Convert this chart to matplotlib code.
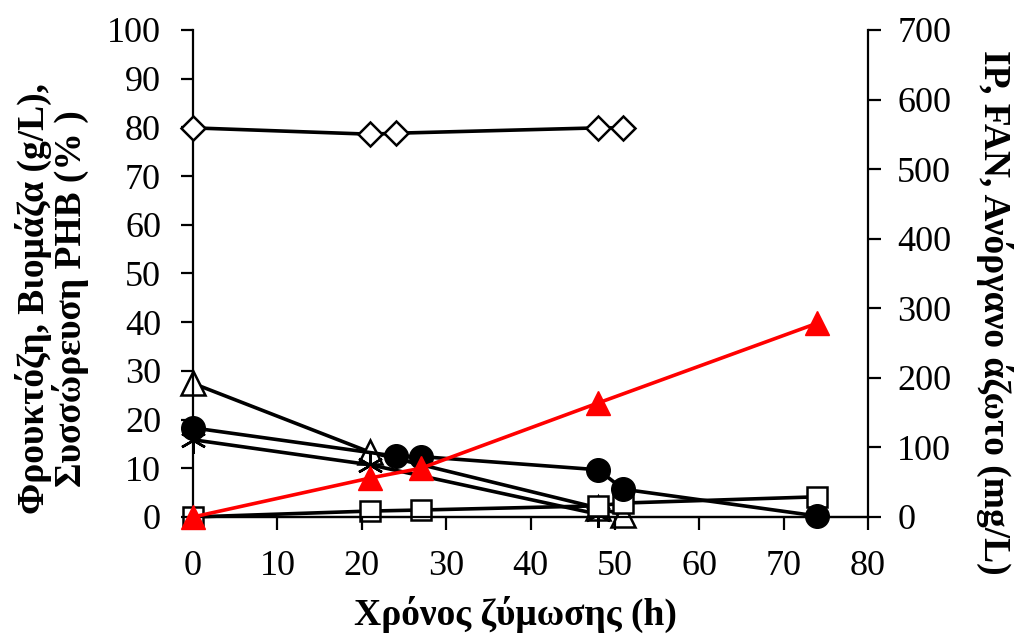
import matplotlib
matplotlib.use('Agg')
import matplotlib.pyplot as plt

plt.rcParams['font.family'] = ['Liberation Serif', 'DejaVu Serif']

# Left axis series (g/L, %)
t_phb = [0, 21, 24, 48, 51]
phb = [79.9, 78.6, 78.8, 79.9, 79.9]
t_fru = [0, 24, 27, 48, 51, 74]
fructose = [18.3, 12.5, 12.4, 9.7, 5.7, 0.2]
t_red = [0, 21, 27, 48, 74]
red_vals = [0, 8.0, 10.0, 23.4, 39.8]

# Right axis series (mg/L)
t_ip = [0, 21, 48, 51]
ip = [192, 93, 13, 3]
t_fan = [0, 21, 48]
fan = [111, 75, 4]
t_sq = [0, 21, 27, 48, 51, 74]
sq_vals = [0, 8.5, 10, 16, 20, 29]

fig = plt.figure(figsize=(10.17, 6.38), dpi=100)
ax = fig.add_axes([0.1898, 0.1897, 0.8535 - 0.1898, 0.953 - 0.1897])
ax2 = ax.twinx()

lw = 2.6
kw = dict(clip_on=False, zorder=3)
ax2.plot(t_ip, ip, color='black', lw=lw, marker='^', ms=17, mfc='white', mec='black', mew=1.8, **kw)
ax2.plot(t_fan, fan, color='black', lw=lw, marker=(6, 2, 0), ms=19, mec='black', mew=1.8, **kw)
ax2.plot(t_sq, sq_vals, color='black', lw=lw, marker='s', ms=15, mfc='white', mec='black', mew=1.8, **kw)
ax.plot(t_phb, phb, color='black', lw=lw, marker='D', ms=12, mfc='white', mec='black', mew=1.8, **kw)
ax.plot(t_fru, fructose, color='black', lw=lw, marker='o', ms=17, mfc='black', mec='black', **kw)
ax.plot(t_red, red_vals, color='red', lw=lw, marker='^', ms=17, mfc='red', mec='red', clip_on=False, zorder=4)

ax.set_xlim(0, 80)
ax.set_ylim(0, 100)
ax2.set_ylim(0, 700)
ax.set_xticks(range(0, 81, 10))
ax.set_yticks(range(0, 101, 10))
ax2.set_yticks(range(0, 701, 100))

for a in (ax, ax2):
    a.spines['top'].set_visible(False)
    for s in a.spines.values():
        s.set_linewidth(1.6)
ax.spines['right'].set_visible(False)
ax2.spines['left'].set_visible(False)

ax.tick_params(axis='both', direction='out', length=9, width=1.6, labelsize=26)
ax.tick_params(axis='y', pad=14)
ax.tick_params(axis='x', pad=15)
ax2.tick_params(axis='y', direction='out', length=9, width=1.6, labelsize=26, pad=12)

ax.set_xlabel('Χρόνος ζύμωσης (h)', fontsize=27, fontweight='bold')
ax.set_ylabel('Φρουκτόζη, Βιομάζα (g/L),\nΣυσσώρευση PHB (% )', fontsize=27, fontweight='bold',
              linespacing=1.0)
ax2.set_ylabel('IP, FAN, Ανόργανο άζωτο (mg/L)', fontsize=27, fontweight='bold', rotation=270)

for lab in (ax.xaxis.label, ax.yaxis.label, ax2.yaxis.label):
    lab.set_va('center')
    lab.set_ha('center')
ax.xaxis.set_label_coords(0.477, -0.2)
ax.yaxis.set_label_coords(-0.2096, 0.4476)
ax2.yaxis.set_label_coords(1.188, 0.421)

ax.patch.set_visible(False)
ax.set_zorder(ax2.get_zorder() + 1)

fig.savefig('out.png', dpi=100)
